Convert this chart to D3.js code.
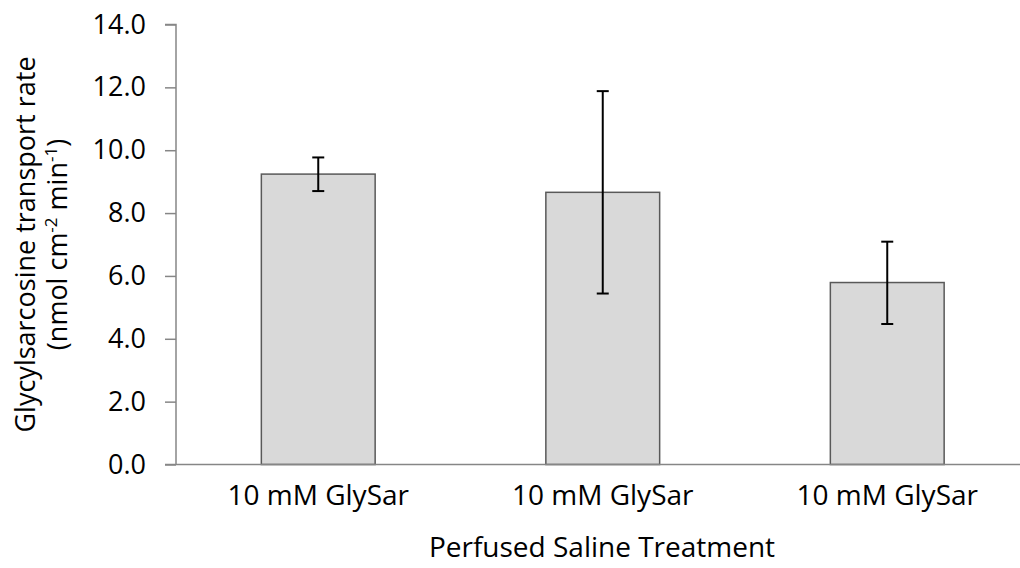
<!DOCTYPE html>
<html>
<head>
<meta charset="utf-8">
<script src="https://cdn.jsdelivr.net/npm/d3@7"></script>
<style>
  body { margin: 0; background: #fff; }
  text { font-family: "Open Sans", sans-serif; fill: #000; }
</style>
</head>
<body>
<svg id="chart" width="1020" height="568"></svg>
<script>
// data
var categories = ["10 mM GlySar", "10 mM GlySar", "10 mM GlySar"];
var means = [9.24, 8.66, 5.79];
var errHigh = [9.77, 11.88, 7.09];
var errLow = [8.70, 5.44, 4.47];
var yTicks = [0, 2, 4, 6, 8, 10, 12, 14];

var svg = d3.select("#chart");
var pL = 176, pR = 1029.5, pT = 24.5, pB = 464.5;

var x = d3.scaleBand().domain(d3.range(categories.length)).range([pL, pR]).paddingInner(0.6).paddingOuter(0.3);
var y = d3.scaleLinear().domain([0, 14]).range([pB, pT]);

var rows = categories.map(function(c, i) { return {i: i, name: c, v: means[i], hi: errHigh[i], lo: errLow[i]}; });

// bars
svg.selectAll(".bar").data(rows).enter().append("rect")
   .attr("class", "bar")
   .attr("x", function(d) { return x(d.i); })
   .attr("y", function(d) { return y(d.v); })
   .attr("width", x.bandwidth())
   .attr("height", function(d) { return pB - y(d.v); })
   .attr("fill", "#d9d9d9")
   .attr("stroke", "#595959")
   .attr("stroke-width", 1.5);

// y axis
var yAxis = d3.axisLeft(y).tickValues(yTicks).tickSize(11).tickPadding(19).tickFormat(d3.format(".1f"));
var gy = svg.append("g").attr("transform", "translate(" + pL + ",0)").call(yAxis);
gy.select(".domain").attr("stroke", "#868686").attr("stroke-width", 1.5).attr("d", "M-11," + pT + "H0V" + pB);
gy.selectAll(".tick line").attr("stroke", "#868686").attr("stroke-width", 1.5);
gy.selectAll(".tick text").style("font-size", "27px").attr("font-family", null).attr("fill", "#000");

// x axis line
svg.append("line").attr("x1", pL - 11).attr("x2", 1020).attr("y1", pB).attr("y2", pB)
   .attr("stroke", "#868686").attr("stroke-width", 1.5);

// error bars
var eb = svg.selectAll(".err").data(rows).enter().append("g").attr("class", "err")
   .attr("stroke", "#000").attr("stroke-width", 2);
eb.append("line")
   .attr("x1", function(d) { return x(d.i) + x.bandwidth() / 2; })
   .attr("x2", function(d) { return x(d.i) + x.bandwidth() / 2; })
   .attr("y1", function(d) { return y(d.hi); })
   .attr("y2", function(d) { return y(d.lo); });
["hi", "lo"].forEach(function(k) {
  eb.append("line")
     .attr("x1", function(d) { return x(d.i) + x.bandwidth() / 2 - 6; })
     .attr("x2", function(d) { return x(d.i) + x.bandwidth() / 2 + 6; })
     .attr("y1", function(d) { return y(d[k]); })
     .attr("y2", function(d) { return y(d[k]); });
});

// category labels
svg.selectAll(".cat").data(rows).enter().append("text")
   .attr("class", "cat")
   .attr("x", function(d) { return x(d.i) + x.bandwidth() / 2; })
   .attr("y", 505)
   .attr("text-anchor", "middle")
   .style("font-size", "28px")
   .text(function(d) { return d.name; });

// x title
svg.append("text").attr("x", 602).attr("y", 557).attr("text-anchor", "middle")
   .style("font-size", "28px").text("Perfused Saline Treatment");

// y title
var yt = svg.append("text").attr("transform", "translate(35," + ((pT + pB) / 2) + ") rotate(-90)")
   .attr("text-anchor", "middle").style("font-size", "27px");
yt.append("tspan").attr("x", 0).attr("dy", 0).text("Glycylsarcosine transport rate");
var t2 = yt.append("tspan").attr("x", 0).attr("dy", 32);
t2.append("tspan").text("(nmol cm");
t2.append("tspan").attr("dy", -10).style("font-size", "17px").text("-2");
t2.append("tspan").attr("dy", 10).text(" min");
t2.append("tspan").attr("dy", -10).style("font-size", "17px").text("-1");
t2.append("tspan").attr("dy", 10).text(")");
</script>
</body>
</html>
